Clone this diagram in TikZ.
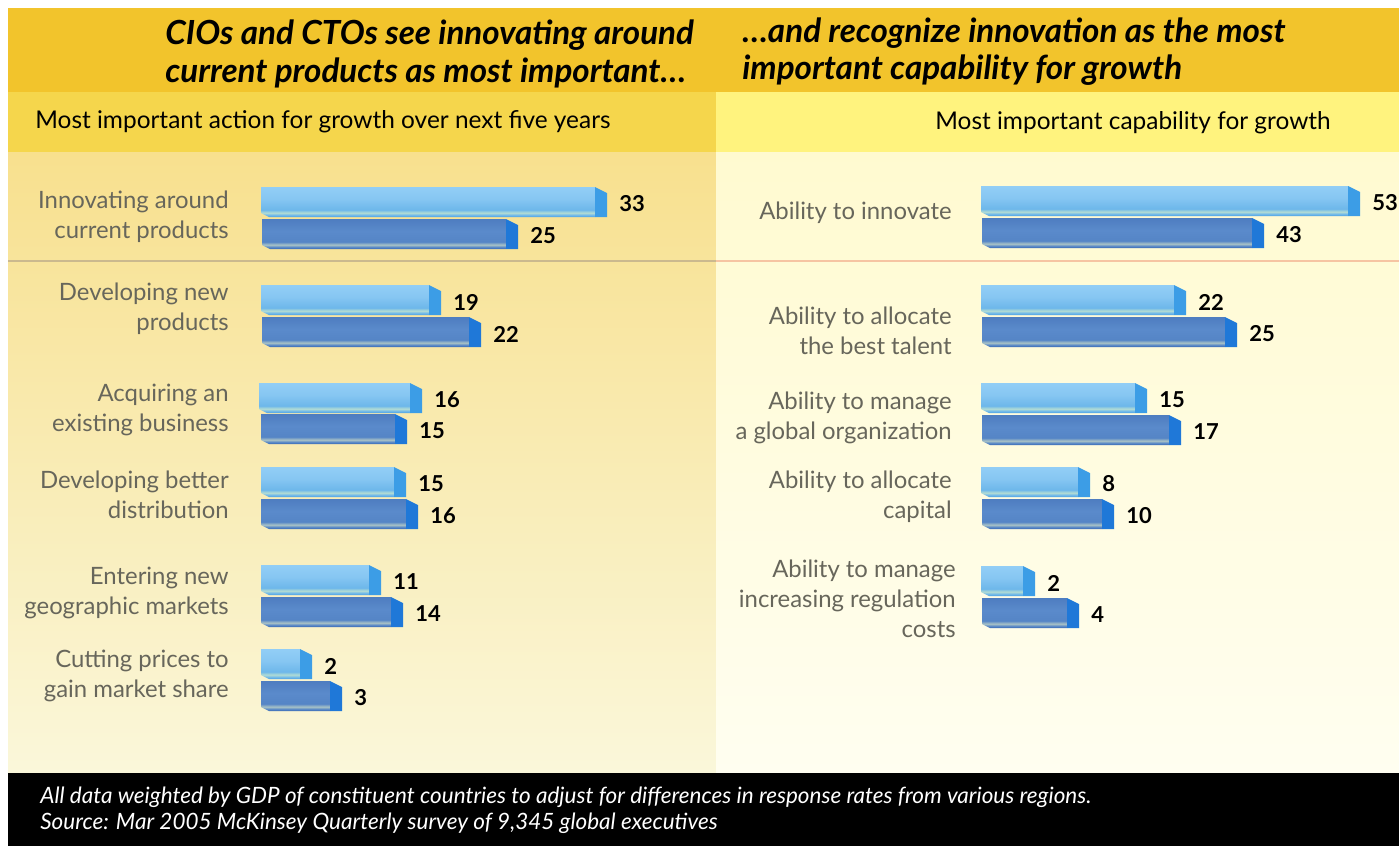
\documentclass[tikz,border=0pt]{standalone}
\usepackage{xcolor}
\usepackage{fontspec}
\setmainfont{Lato}
\usetikzlibrary{calc,positioning}

\definecolor{headgold}{HTML}{F2C42C}
\definecolor{subleft}{HTML}{F5D64C}
\definecolor{subright}{HTML}{FFF37E}
\definecolor{lpaneltop}{HTML}{F8E08E}
\definecolor{lpanelbot}{HTML}{FAF7DA}
\definecolor{rpaneltop}{HTML}{FFFAD0}
\definecolor{rpanelbot}{HTML}{FFFEF0}
\definecolor{labgray}{HTML}{67665B}
\definecolor{lsepline}{HTML}{CBB98E}
\definecolor{rsepline}{HTML}{F6C4A2}
% bar colours
\definecolor{lbtop}{HTML}{92CEF6}
\definecolor{lbmid}{HTML}{86C6F2}
\definecolor{lblow}{HTML}{6DB7EA}
\definecolor{lbstripe}{HTML}{B2DCD4}
\definecolor{lbedge}{HTML}{4EA2E0}
\definecolor{lightcap}{HTML}{3C9DE6}
\definecolor{dbtop}{HTML}{4E7DC0}
\definecolor{dbmid}{HTML}{5A8ACB}
\definecolor{dblow}{HTML}{5585C6}
\definecolor{dbstripe}{HTML}{A8C2C6}
\definecolor{dbedge}{HTML}{3A69B2}
\definecolor{darkcap}{HTML}{1F78D8}

\pgfdeclareverticalshading{lightbar}{100bp}{color(0bp)=(lbedge); color(25bp)=(lbedge); color(28bp)=(lblow); color(32bp)=(lbstripe); color(37bp)=(lblow); color(55bp)=(lbmid); color(75bp)=(lbtop); color(100bp)=(lbtop)}
\pgfdeclareverticalshading{darkbar}{100bp}{color(0bp)=(dbedge); color(25bp)=(dbedge); color(28bp)=(dblow); color(32bp)=(dbstripe); color(37bp)=(dblow); color(55bp)=(dbmid); color(75bp)=(dbtop); color(100bp)=(dbtop)}

\tikzset{
  rowlab/.style={anchor=east,align=right,inner sep=0pt,text=labgray,font=\fontsize{13.6}{17}\selectfont},
  barval/.style={anchor=west,inner sep=0pt,font=\fontsize{12.5}{14}\selectfont\bfseries},
  headline/.style={anchor=west,align=left,inner sep=0pt,font=\fontsize{18.9}{21.2}\selectfont\bfseries\itshape},
  subhead/.style={inner sep=0pt,font=\fontsize{13.9}{16}\selectfont},
}

% #1 name, #2 light/dark, #3 start x, #4 top y, #5 end x, #6 value
\newcommand{\drawbar}[6]{%
  \shade[shading=#2bar] (#3,#4) -- ({#5-12},#4) -- ({#5-12},{#4+30}) -- ({#3+8},{#4+30}) -- (#3,{#4+26}) -- cycle;
  \fill[#2cap] ({#5-12},#4) -- (#5,{#4+6}) -- (#5,{#4+30}) -- ({#5-12},{#4+30}) -- cycle;
  \node[barval] (#1) at ({#5+12},{#4+17}) {#6};
}

\begin{document}
\begin{tikzpicture}[x=0.02cm,y=-0.02cm]

    \fill[white] (0,0) rectangle (1399,846);
    \useasboundingbox (0,0) rectangle (1399,846);

    % bands and panels
    \fill[headgold] (8,8) rectangle (1399,92);
    \fill[subleft] (8,92) rectangle (716,152);
    \fill[subright] (716,92) rectangle (1399,152);
    \shade[top color=lpaneltop,bottom color=lpanelbot] (8,152) rectangle (716,773);
    \shade[top color=rpaneltop,bottom color=rpanelbot] (716,152) rectangle (1399,773);
    \fill[black] (8,773) rectangle (1399,846);

    \draw[lsepline,line width=1.2pt] (8,261) -- (716,261);
    \draw[rsepline,line width=1.2pt] (716,261) -- (1399,261);

    % titles
    \node[headline] (titleL) at (165,54) {CIOs and CTOs see innovating around\\current products as most important\dots};
    \node[headline] (titleR) at (742,52) {\dots and recognize innovation as the most\\important capability for growth};

    \node[subhead,anchor=west] (subL) at (35,122) {Most important action for growth over next five years};
    \node[subhead,anchor=east] (subR) at (1331,123) {Most important capability for growth};

    % left labels
    \node[rowlab] (labA) at (229,217) {Innovating around\\current products};
    \node[rowlab] (labB) at (229,309) {Developing new\\products};
    \node[rowlab] (labC) at (229,410) {Acquiring an\\existing business};
    \node[rowlab] (labD) at (229,495) {Developing better\\distribution};
    \node[rowlab] (labE) at (229,593) {Entering new\\geographic markets};
    \node[rowlab] (labF) at (229,676) {Cutting prices to\\gain market share};

    % left bars
    \drawbar{vA1}{light}{261}{187}{607}{33}
    \drawbar{vA2}{dark}{262}{219}{518}{25}
    \drawbar{vB1}{light}{261}{285}{441}{19}
    \drawbar{vB2}{dark}{262}{317}{481}{22}
    \drawbar{vC1}{light}{259}{383}{422}{16}
    \drawbar{vC2}{dark}{261}{414}{407}{15}
    \drawbar{vD1}{light}{261}{467}{406}{15}
    \drawbar{vD2}{dark}{261}{499}{418}{16}
    \drawbar{vE1}{light}{261}{565}{381}{11}
    \drawbar{vE2}{dark}{261}{597}{403}{14}
    \drawbar{vF1}{light}{261}{649}{312}{2}
    \drawbar{vF2}{dark}{261}{681}{342}{3}

    % right labels
    \node[rowlab] (labP) at (952,213) {Ability to innovate};
    \node[rowlab] (labQ) at (952,331) {Ability to allocate\\the best talent};
    \node[rowlab] (labR) at (952,418) {Ability to manage\\a global organization};
    \node[rowlab] (labS) at (952,497) {Ability to allocate\\capital};
    \node[rowlab] (labT) at (956,599) {Ability to manage\\increasing regulation\\costs};

    % right bars
    \drawbar{vP1}{light}{981}{186}{1360}{53}
    \drawbar{vP2}{dark}{982}{218}{1264}{43}
    \drawbar{vQ1}{light}{981}{285}{1186}{22}
    \drawbar{vQ2}{dark}{982}{317}{1237}{25}
    \drawbar{vR1}{light}{981}{383}{1147}{15}
    \drawbar{vR2}{dark}{982}{415}{1181}{17}
    \drawbar{vS1}{light}{981}{467}{1090}{8}
    \drawbar{vS2}{dark}{982}{499}{1114}{10}
    \drawbar{vT1}{light}{981}{566}{1035}{2}
    \drawbar{vT2}{dark}{982}{598}{1079}{4}

    % footer
    \node[anchor=west,align=left,inner sep=0pt,text=white,font=\fontsize{12.8}{14.7}\selectfont\itshape] (foot) at (40,810)
        {All data weighted by GDP of constituent countries to adjust for differences in response rates from various regions.\\Source: Mar 2005 McKinsey Quarterly survey of 9,345 global executives};
\end{tikzpicture}
\end{document}
